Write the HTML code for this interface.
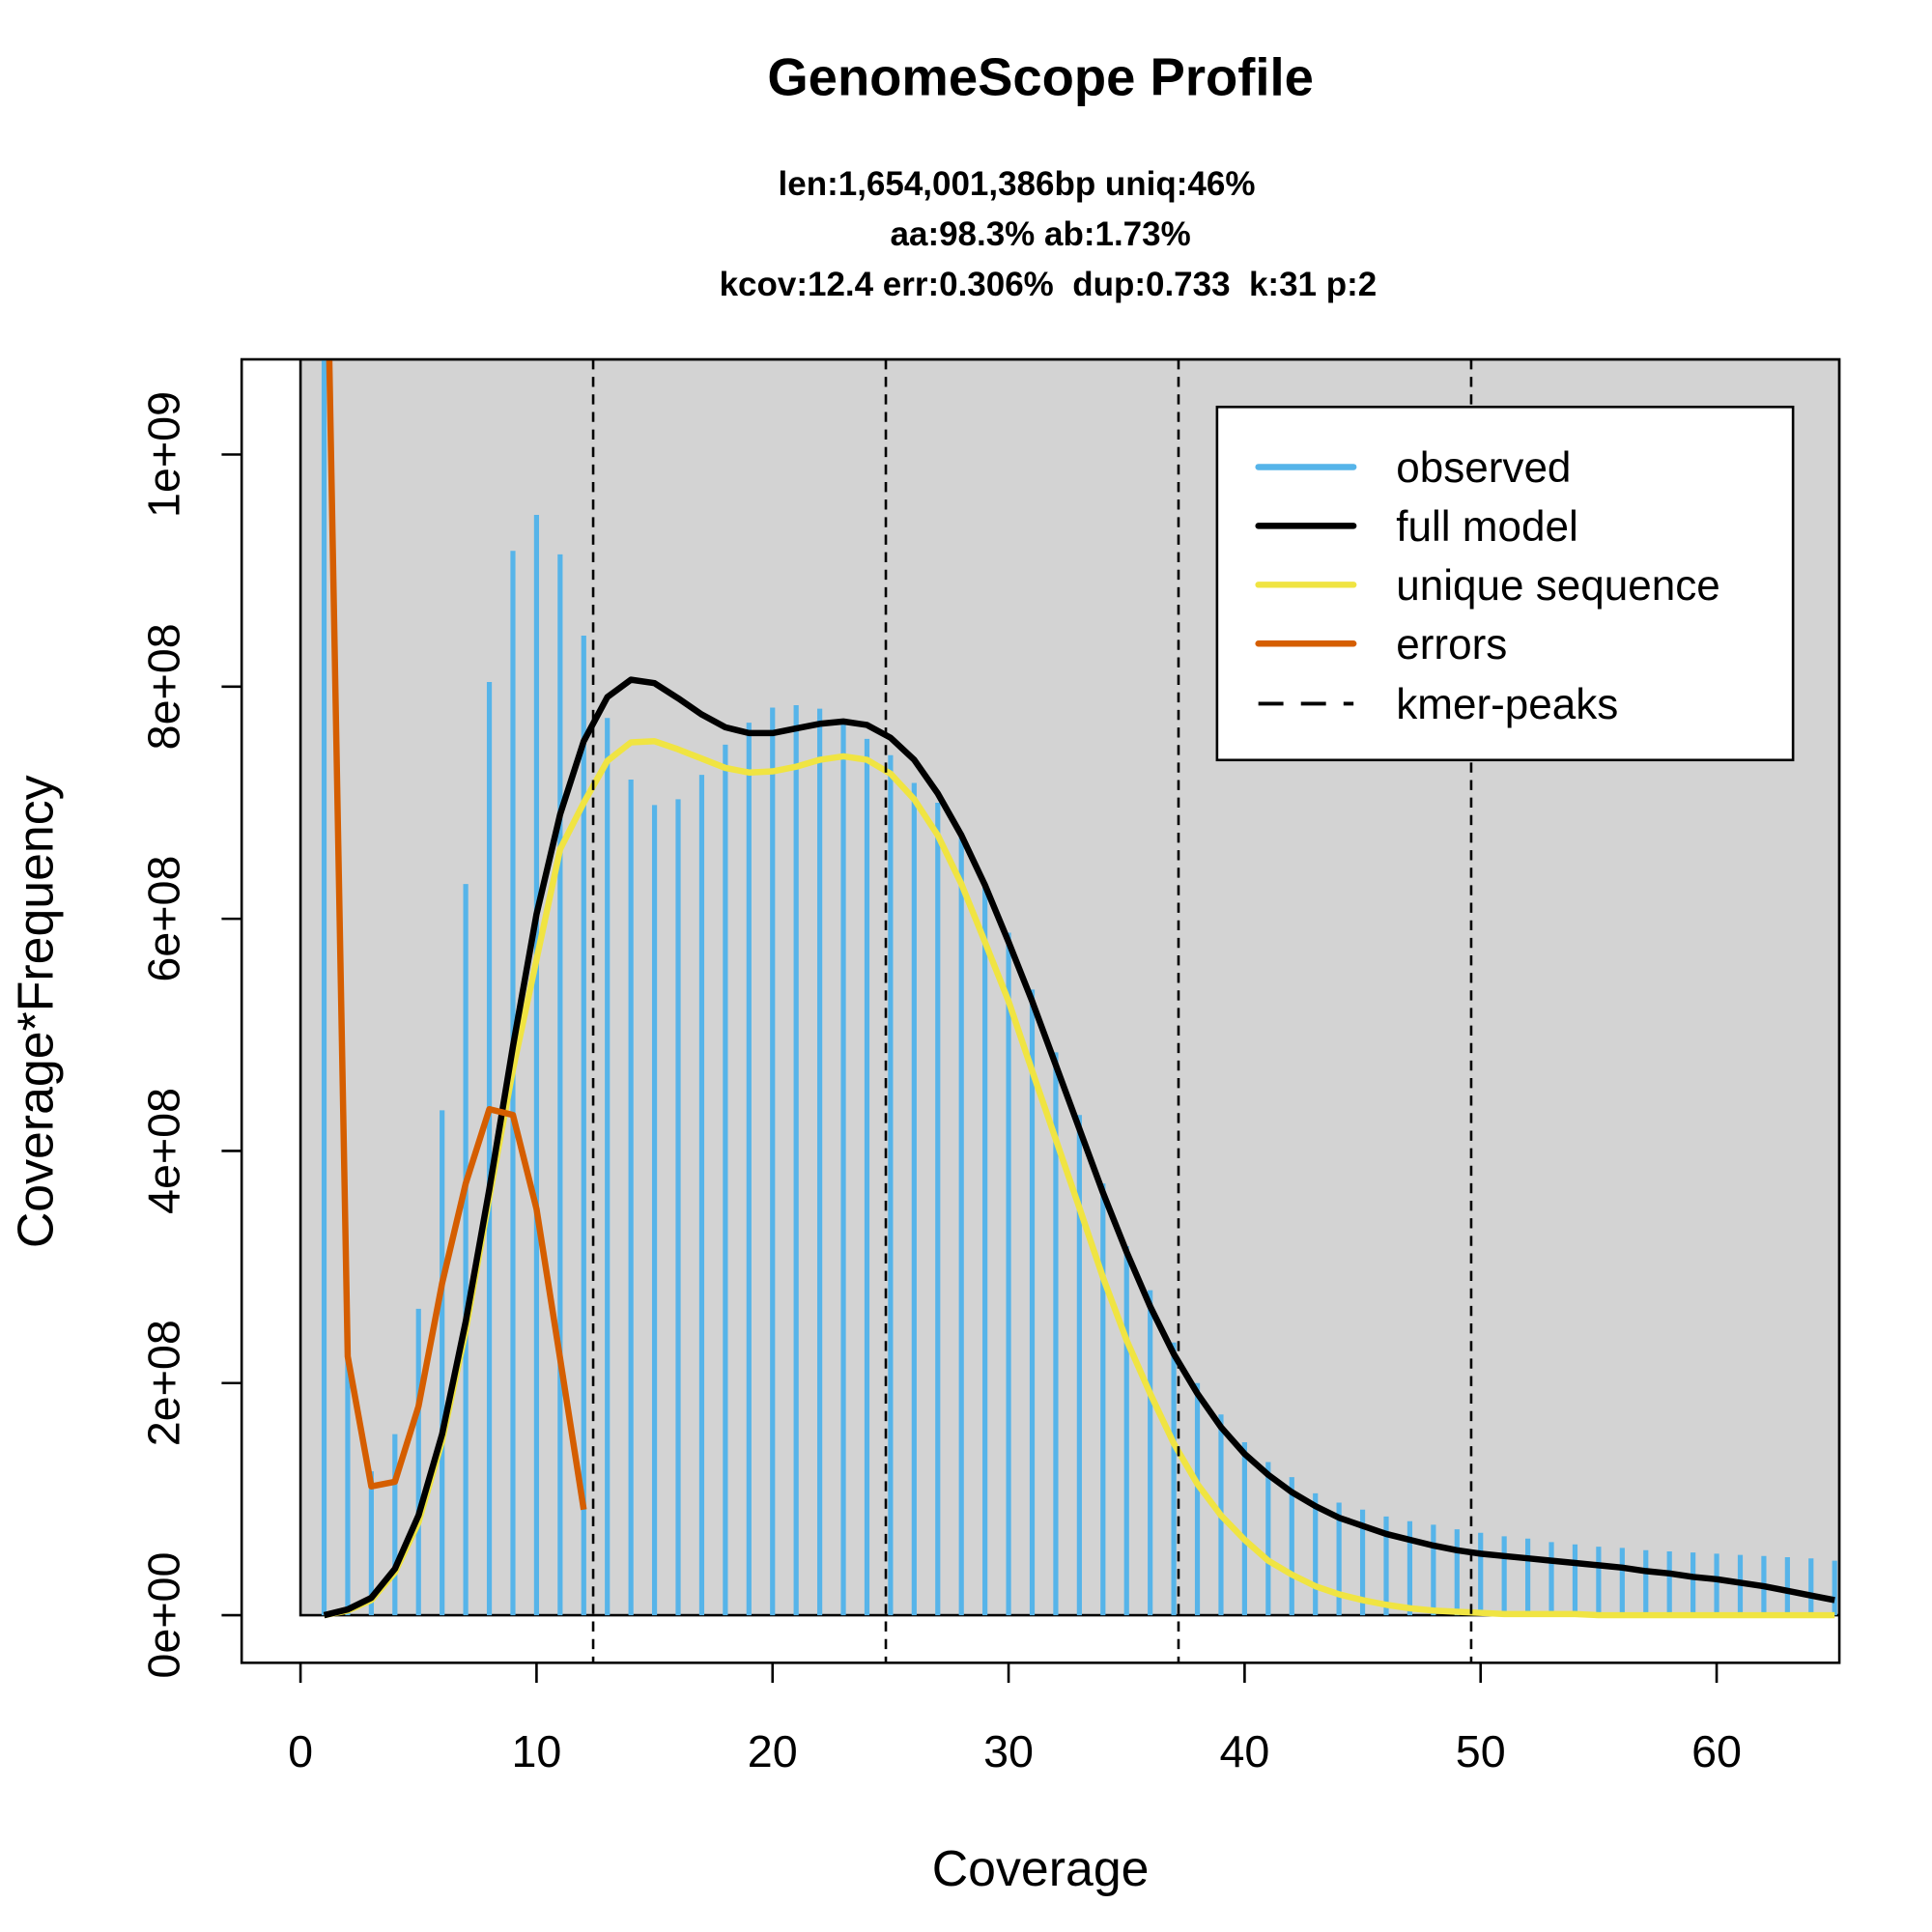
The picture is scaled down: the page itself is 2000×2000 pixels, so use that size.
<!DOCTYPE html>
<html><head><meta charset="utf-8"><title>GenomeScope Profile</title>
<style>html,body{margin:0;padding:0;background:#fff}svg{display:block}text{font-family:"Liberation Sans",Arial,sans-serif}</style>
</head><body>
<svg id="chart" xmlns="http://www.w3.org/2000/svg" width="2000" height="2000" viewBox="0 0 1543 1543">
<rect x="0" y="0" width="1543" height="1543" fill="#fff"/>
<text x="831" y="76" text-anchor="middle" font-size="42" font-weight="bold">GenomeScope Profile</text>
<g font-size="27" font-weight="bold" text-anchor="middle" style="white-space:pre">
<text x="812" y="156">len:1,654,001,386bp uniq:46%</text>
<text x="831" y="196">aa:98.3% ab:1.73%</text>
<text x="837" y="236" xml:space="preserve">kcov:12.4 err:0.306%  dup:0.733  k:31 p:2</text>
</g>
<defs><clipPath id="pc"><rect x="193" y="287" width="1276" height="1041"/></clipPath></defs>
<g id="plot" clip-path="url(#pc)"></g>
<rect x="193" y="287" width="1276" height="1041" fill="none" stroke="#000" stroke-width="2"/>
<g id="axes"></g>
<text x="831" y="1506" text-anchor="middle" font-size="40">Coverage</text>
<text transform="translate(42,808) rotate(-90)" text-anchor="middle" font-size="40">Coverage*Frequency</text>
<g>
<rect x="972" y="325" width="460" height="282" fill="#fff" stroke="#000" stroke-width="2"/>
<line x1="1005" y1="373" x2="1081" y2="373" stroke="#56B4E9" stroke-width="5" stroke-linecap="round"/>
<line x1="1005" y1="420" x2="1081" y2="420" stroke="#000" stroke-width="5" stroke-linecap="round"/>
<line x1="1005" y1="467" x2="1081" y2="467" stroke="#F0E442" stroke-width="5" stroke-linecap="round"/>
<line x1="1005" y1="514" x2="1081" y2="514" stroke="#D55E00" stroke-width="5" stroke-linecap="round"/>
<line x1="1005" y1="562" x2="1081" y2="562" stroke="#000" stroke-width="3" stroke-dasharray="20,14"/>
<g font-size="34">
<text x="1115" y="385">observed</text>
<text x="1115" y="432">full model</text>
<text x="1115" y="479">unique sequence</text>
<text x="1115" y="526">errors</text>
<text x="1115" y="574">kmer-peaks</text>
</g>
</g>
</svg>
<script>
const observed=[1.3,0.22,0.124,0.156,0.264,0.435,0.63,0.804,0.917,0.948,0.914,0.844,0.773,0.72,0.698,0.703,0.724,0.75,0.769,0.782,0.784,0.781,0.77,0.755,0.741,0.717,0.70,0.674,0.631,0.588,0.539,0.485,0.431,0.372,0.318,0.28,0.235,0.2,0.173,0.149,0.132,0.119,0.105,0.097,0.091,0.085,0.081,0.078,0.074,0.071,0.068,0.066,0.063,0.061,0.059,0.058,0.056,0.055,0.054,0.053,0.052,0.051,0.05,0.049,0.047];
const fullModel=[0,0.005,0.015,0.04,0.086,0.156,0.253,0.367,0.49,0.604,0.69,0.753,0.791,0.806,0.803,0.79,0.776,0.765,0.76,0.76,0.764,0.768,0.77,0.767,0.756,0.737,0.708,0.672,0.629,0.58,0.529,0.474,0.419,0.364,0.313,0.266,0.225,0.191,0.162,0.139,0.121,0.106,0.094,0.084,0.077,0.07,0.065,0.06,0.056,0.053,0.051,0.049,0.047,0.045,0.043,0.041,0.038,0.036,0.033,0.031,0.028,0.025,0.021,0.017,0.013];
const uniqueSeq=[0,0.004,0.013,0.037,0.08,0.15,0.245,0.36,0.47,0.565,0.66,0.70,0.736,0.752,0.753,0.746,0.738,0.73,0.726,0.727,0.731,0.737,0.74,0.737,0.725,0.703,0.672,0.63,0.58,0.529,0.469,0.41,0.351,0.291,0.237,0.191,0.148,0.113,0.086,0.065,0.047,0.035,0.025,0.018,0.013,0.009,0.006,0.004,0.003,0.002,0.001,0.001,0.001,0.001,0,0,0,0,0,0,0,0,0,0,0];
const errors=[1.325,0.223,0.111,0.115,0.18,0.286,0.372,0.436,0.431,0.35,0.221,0.091];
const kmerPeaks=[12.4,24.8,37.2,49.6];
const xTicks=[0,10,20,30,40,50,60];
const yTicks=[0,2e8,4e8,6e8,8e8,1e9];
const yTickLabels=["0e+00","2e+08","4e+08","6e+08","8e+08","1e+09"];
const xScale=v=>240+v*18.85;
const yScale=v=>1290-v*927e-9;
const NS="http://www.w3.org/2000/svg";
function mk(tag,attrs,parent){const e=document.createElementNS(NS,tag);for(const k in attrs)e.setAttribute(k,attrs[k]);parent.appendChild(e);return e;}
const plot=document.getElementById('plot'), axes=document.getElementById('axes');
const bg=mk('rect',{x:xScale(0),y:287,width:1469-xScale(0),height:yScale(0)-287,fill:'#d3d3d3',stroke:'#000','stroke-width':2},plot);


observed.forEach((v,i)=>{const x=xScale(i+1);
 const b=mk('line',{x1:x,x2:x,y1:yScale(0),y2:yScale(v*1e9),stroke:'#56B4E9','stroke-width':4},plot);
 
 });
function line(arr,color,name){const pts=arr.map((v,i)=>xScale(i+1)+','+yScale(v*1e9)).join(' ');
 const p=mk('polyline',{points:pts,fill:'none',stroke:color,'stroke-width':5,'stroke-linejoin':'round'},plot);
 
 }
line(uniqueSeq,'#F0E442','unique-sequence-line');
line(fullModel,'#000','full-model-line');
line(errors,'#D55E00','errors-line');
kmerPeaks.forEach(k=>{const x=xScale(k);
 const d=mk('line',{x1:x,x2:x,y1:287,y2:1328,stroke:'#000','stroke-width':2,'stroke-dasharray':'8,6'},plot);
 
 });
xTicks.forEach(t=>{const x=xScale(t);
 const tk=mk('line',{x1:x,x2:x,y1:1328,y2:1344,stroke:'#000','stroke-width':2},axes);
 
 
 const tl=mk('text',{x:x,y:1411,'text-anchor':'middle','font-size':36},axes);tl.textContent=t;
 
 });
yTicks.forEach((t,i)=>{const y=yScale(t);
 const tk=mk('line',{x1:177,x2:193,y1:y,y2:y,stroke:'#000','stroke-width':2},axes);
 
 
 const tl=mk('text',{transform:`translate(143,${y}) rotate(-90)`,'text-anchor':'middle','font-size':36},axes);tl.textContent=yTickLabels[i];
 
 });
</script>
</body></html>
